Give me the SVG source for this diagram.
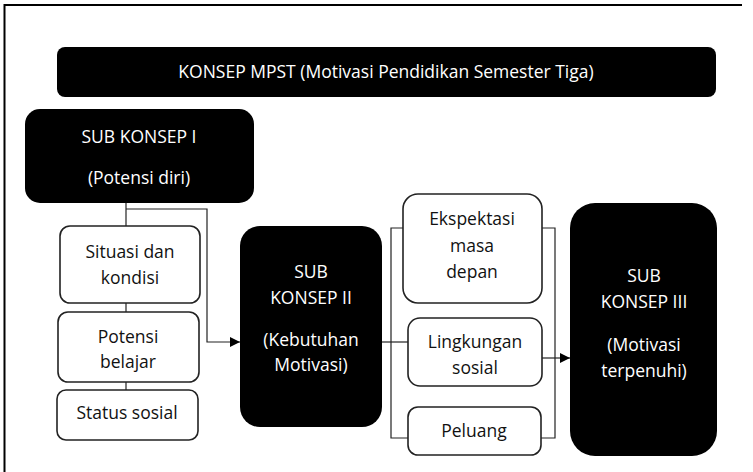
<svg xmlns="http://www.w3.org/2000/svg" width="753" height="472" viewBox="0 0 753 472">
<defs>
<marker id="arr" markerWidth="10" markerHeight="10" refX="10" refY="5" orient="auto" markerUnits="userSpaceOnUse">
<path d="M0,0 L10,5 L0,10 Z" fill="#000"/>
</marker>
</defs>
<style>
.dark{fill:#000;}
.light{fill:#fff;stroke:#222;stroke-width:1.6;}
.tw{fill:#fff;font-family:"Open Sans","Liberation Sans",sans-serif;font-size:17.5px;text-anchor:middle;}
.tb{fill:#111;font-family:"Open Sans","Liberation Sans",sans-serif;font-size:17.5px;text-anchor:middle;}
.ln{fill:none;stroke:#222;stroke-width:1.2;}
</style>
<rect width="753" height="472" fill="#fff"/>
<path d="M4.5,472 V5 H742" fill="none" stroke="#000" stroke-width="2"/>
<g id="connectors">
<path class="ln" d="M126,203 V226"/>
<path class="ln" d="M126,303 V312"/>
<path class="ln" d="M126,382 V390"/>
<path class="ln" d="M126,209 H207 V342 H240" marker-end="url(#arr)"/>
<path class="ln" d="M382,342 H408"/>
<path class="ln" d="M403,228 H391 V438 H408"/>
<path class="ln" d="M542,228 H555 V438 H541"/>
<path class="ln" d="M542,358 H570" marker-end="url(#arr)"/>
</g>
<g id="title">
<rect class="dark" x="57" y="47" width="659" height="50" rx="8"/>
<text class="tw" x="386" y="78">KONSEP MPST (Motivasi Pendidikan Semester Tiga)</text>
</g>
<g id="sub1">
<rect class="dark" x="25" y="109" width="229" height="94" rx="15"/>
<text class="tw" x="139" y="143">SUB KONSEP I</text>
<text class="tw" x="139" y="184">(Potensi diri)</text>
</g>
<g id="situasi">
<rect class="light" x="60" y="226" width="140" height="77" rx="10"/>
<text class="tb" x="130" y="258">Situasi dan</text>
<text class="tb" x="130" y="284">kondisi</text>
</g>
<g id="potensi">
<rect class="light" x="58" y="312" width="141" height="70" rx="10"/>
<text class="tb" x="128" y="343">Potensi</text>
<text class="tb" x="128" y="368">belajar</text>
</g>
<g id="status">
<rect class="light" x="57" y="390" width="141" height="50" rx="9"/>
<text class="tb" x="127" y="419">Status sosial</text>
</g>
<g id="sub2">
<rect class="dark" x="240" y="226" width="142" height="201" rx="20"/>
<text class="tw" x="311" y="278">SUB</text>
<text class="tw" x="311" y="304">KONSEP II</text>
<text class="tw" x="311" y="346">(Kebutuhan</text>
<text class="tw" x="311" y="371">Motivasi)</text>
</g>
<g id="ekspektasi">
<rect class="light" x="403" y="194" width="139" height="109" rx="15"/>
<text class="tb" x="472" y="225">Ekspektasi</text>
<text class="tb" x="472" y="252">masa</text>
<text class="tb" x="472" y="278">depan</text>
</g>
<g id="lingkungan">
<rect class="light" x="408" y="318" width="134" height="68" rx="12"/>
<text class="tb" x="475" y="348">Lingkungan</text>
<text class="tb" x="475" y="374">sosial</text>
</g>
<g id="peluang">
<rect class="light" x="408" y="407" width="133" height="48" rx="10"/>
<text class="tb" x="474" y="437">Peluang</text>
</g>
<g id="sub3">
<rect class="dark" x="570" y="203" width="147" height="253" rx="25"/>
<text class="tw" x="644" y="282">SUB</text>
<text class="tw" x="644" y="308">KONSEP III</text>
<text class="tw" x="644" y="351">(Motivasi</text>
<text class="tw" x="644" y="377">terpenuhi)</text>
</g>
</svg>
